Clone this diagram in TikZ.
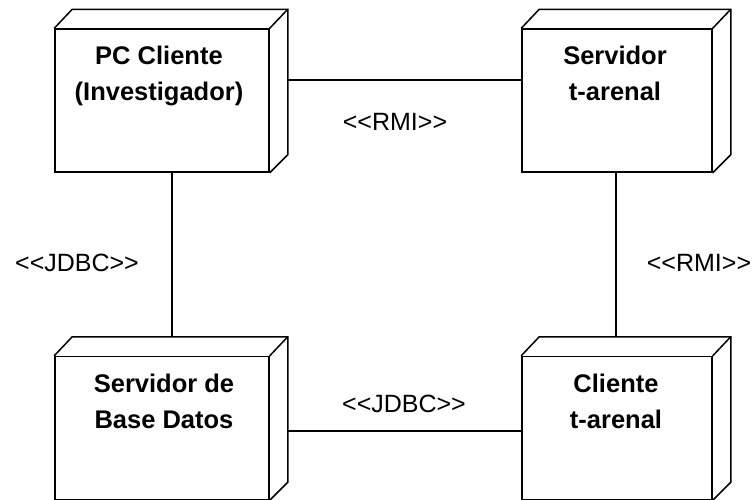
\documentclass[tikz,border=0pt]{standalone}
\usepackage{fontspec}
\setmainfont{Liberation Sans}
\usetikzlibrary{calc}
\tikzset{
  front/.style={draw, line width=1.5pt, rectangle, minimum width=214pt, minimum height=143pt, inner sep=0pt, fill=white},
  depth/.style={draw, line width=1.5pt, line join=miter},
  nodetext/.style={font=\fontsize{25.5}{36}\selectfont\bfseries, align=center, inner sep=0pt, anchor=north},
  stereo/.style={font=\fontsize{25}{28}\selectfont, inner sep=0pt},
  link/.style={draw, line width=1.5pt}
}
% draws the top and side faces of a deployment node
\newcommand{\boxdepth}[1]{%
  \draw[depth] (#1.north west) -- ++(18,-19) -| ($(#1.south east)+(18,-18)$) -- (#1.south east);
  \draw[depth] (#1.north east) -- ++(18,-19);
}
% stereotype brackets, kept as separate characters
\newcommand{\stereotype}[1]{{<}{<}#1{>}{>}}
\begin{document}
\begin{tikzpicture}[x=1pt, y=-1pt]
  \useasboundingbox[fill=white] (0,0) rectangle (753,499);

  % front faces of the four nodes
  \node[front] (pc) at (162,100.5) {};
  \node[front, minimum width=190pt] (sv) at (617,100.5) {};
  \node[front] (db) at (162,428) {};
  \node[front, minimum width=190pt] (cl) at (617,428) {};
  \boxdepth{pc}
  \boxdepth{sv}
  \boxdepth{db}
  \boxdepth{cl}

  % names
  \node[nodetext] (pct) at (159,46) {PC Cliente\\(Investigador)};
  \node[nodetext] (svt) at (615,46) {Servidor\\t-arenal};
  \node[nodetext] (dbt) at (164,374) {Servidor de\\Base Datos};
  \node[nodetext] (clt) at (616,374) {Cliente\\t-arenal};

  % connectors
  \draw[link] ([xshift=18pt,yshift=20.5pt]pc.east) -- ([yshift=20.5pt]sv.west);
  \draw[link] ([xshift=10pt]pc.south) -- ([xshift=10pt,yshift=19pt]db.north);
  \draw[link] ([xshift=-1pt]sv.south) -- ([xshift=-1pt,yshift=19pt]cl.north);
  \draw[link] ([xshift=18pt,yshift=-3pt]db.east) -- ([yshift=-3pt]cl.west);

  % stereotypes
  \node[stereo] (rmi1) at (395,122) {\stereotype{RMI}};
  \node[stereo] (jdbc1) at (77,263) {\stereotype{JDBC}};
  \node[stereo] (rmi2) at (699,263) {\stereotype{RMI}};
  \node[stereo] (jdbc2) at (404,404) {\stereotype{JDBC}};
\end{tikzpicture}
\end{document}
